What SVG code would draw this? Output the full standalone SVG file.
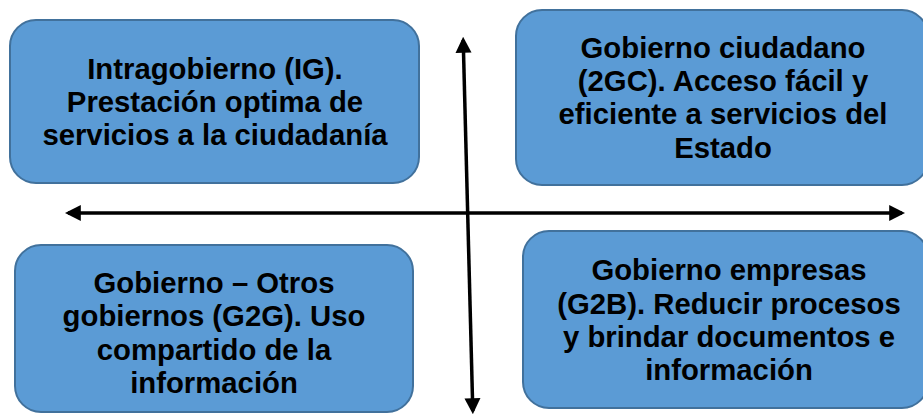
<svg xmlns="http://www.w3.org/2000/svg" width="923" height="418" viewBox="0 0 923 418">
<style>
.box{fill:#5b9bd5;stroke:#41719c;stroke-width:2}
.t{font-family:"Liberation Sans",Arial,sans-serif;font-weight:bold;font-size:29.3px;fill:#000;text-anchor:middle}
.ax{stroke:#000;stroke-width:3.5;fill:none}
</style>
<defs>
<marker id="ah" viewBox="0 0 10 10" refX="8" refY="5" markerUnits="userSpaceOnUse" markerWidth="16" markerHeight="17" orient="auto-start-reverse">
<path d="M0,0 L10,5 L0,10 z" fill="#000"/>
</marker>
</defs>
<g id="connectors">
<line class="ax" x1="68" y1="213" x2="902" y2="213" marker-start="url(#ah)" marker-end="url(#ah)"/>
<line class="ax" x1="463.2" y1="40" x2="472.8" y2="411" marker-start="url(#ah)" marker-end="url(#ah)"/>
</g>
<g id="n1">
<rect class="box" x="10" y="20" width="409" height="163" rx="26"/>
<text class="t"><tspan x="215" y="79">Intragobierno (IG).</tspan><tspan x="215" y="112">Prestación optima de</tspan><tspan x="215" y="145">servicios a la ciudadanía</tspan></text>
</g>
<g id="n2">
<rect class="box" x="516" y="10" width="412" height="175" rx="26"/>
<text class="t"><tspan x="723" y="58">Gobierno ciudadano</tspan><tspan x="723" y="91">(2GC). Acceso fácil y</tspan><tspan x="723" y="124">eficiente a servicios del</tspan><tspan x="723" y="158">Estado</tspan></text>
</g>
<g id="n3">
<rect class="box" x="15" y="245" width="398" height="167" rx="26"/>
<text class="t"><tspan x="214" y="293">Gobierno – Otros</tspan><tspan x="214" y="326">gobiernos (G2G). Uso</tspan><tspan x="214" y="360">compartido de la</tspan><tspan x="214" y="393">información</tspan></text>
</g>
<g id="n4">
<rect class="box" x="523" y="231" width="405" height="177" rx="26"/>
<text class="t"><tspan x="729" y="280">Gobierno empresas</tspan><tspan x="729" y="314">(G2B). Reducir procesos</tspan><tspan x="729" y="347">y brindar documentos e</tspan><tspan x="729" y="380">información</tspan></text>
</g>
</svg>
